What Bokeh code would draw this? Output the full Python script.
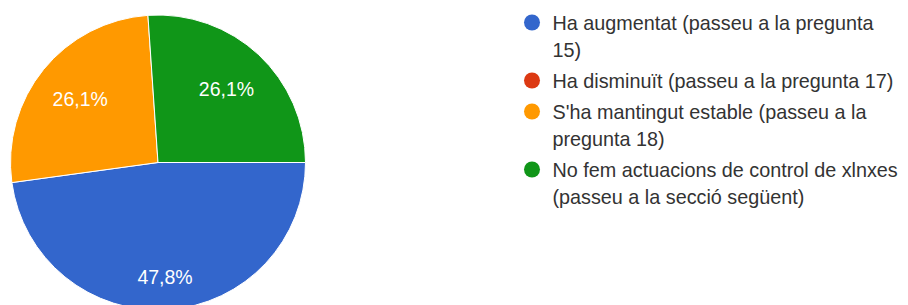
import math
from bokeh.plotting import figure
from bokeh.models import Range1d, ColumnDataSource
from bokeh.core.properties import value
from bokeh.embed import file_html
from bokeh.resources import INLINE

# ---- data ----
categories = [
    "Ha augmentat (passeu a la pregunta 15)",
    "Ha disminuït (passeu a la pregunta 17)",
    "S'ha mantingut estable (passeu a la pregunta 18)",
    "No fem actuacions de control de xlnxes (passeu a la secció següent)",
]
legend_lines = [
    ["Ha augmentat (passeu a la pregunta", "15)"],
    ["Ha disminuït (passeu a la pregunta 17)"],
    ["S'ha mantingut estable (passeu a la", "pregunta 18)"],
    ["No fem actuacions de control de xlnxes", "(passeu a la secció següent)"],
]
counts = [11, 0, 6, 6]
colors = ["#3366cc", "#dc3912", "#ff9900", "#109618"]

# ---- layout ----
W, H = 900, 305
CX, CY_TOP, R = 157.5, 162.0, 147.5
CY = H - CY_TOP
FONT = "Liberation Sans"

p = figure(width=W, height=H, x_range=Range1d(0, W), y_range=Range1d(0, H),
           output_backend="svg", toolbar_location=None, min_border=0)
p.axis.visible = False
p.grid.visible = False
p.outline_line_color = None
p.background_fill_color = "white"
p.border_fill_color = "white"

total = float(sum(counts))
starts, ends, cols = [], [], []
lab = {"middle": ([], [], []), "top": ([], [], [])}
cum = 0.0
for c, col in zip(counts, colors):
    a0 = -2 * math.pi * cum / total
    cum += c
    a1 = -2 * math.pi * cum / total
    if c > 0:
        starts.append(a0)
        ends.append(a1)
        cols.append(col)
        mid = (a0 + a1) / 2
        if math.sin(mid) < -0.5:
            key, frac = "top", 0.70
        else:
            key, frac = "middle", 0.68
        lab[key][0].append(CX + frac * R * math.cos(mid))
        lab[key][1].append(CY + frac * R * math.sin(mid))
        lab[key][2].append(("%.1f" % (100 * c / total)).replace(".", ",") + "%")

src = ColumnDataSource(dict(start=starts, end=ends, color=cols))
p.wedge(x=CX, y=CY, radius=R, start_angle="start", end_angle="end",
        direction="clock", fill_color="color", line_color="white",
        line_width=1, source=src)

for key, (lx, ly, lt) in lab.items():
    if lx:
        p.text(x=lx, y=ly, text=lt, text_color="white", text_font=value(FONT),
               text_font_size="19.5px", text_align="center", text_baseline=key)

# ---- legend ----
LEG_X_DOT, LEG_X_TXT = 531.5, 552.0
LEG_Y0, LINE_STEP, ENTRY_STEP = 22.0, 27.0, 31.0
dot_x, dot_y, dot_c = [], [], []
tx, ty, tt = [], [], []
y = LEG_Y0
for lines, col in zip(legend_lines, colors):
    dot_x.append(LEG_X_DOT)
    dot_y.append(H - y)
    dot_c.append(col)
    for i, line in enumerate(lines):
        tx.append(LEG_X_TXT)
        ty.append(H - y)
        tt.append(line)
        if i < len(lines) - 1:
            y += LINE_STEP
    y += ENTRY_STEP

p.scatter(x=dot_x, y=dot_y, marker="circle", size=16, fill_color=dot_c,
          line_color=None)
p.text(x=tx, y=ty, text=tt, text_color="#333333", text_font=value(FONT),
       text_font_size="19.8px", text_align="left", text_baseline="middle")

open("out.html", "w").write(file_html(p, INLINE))
